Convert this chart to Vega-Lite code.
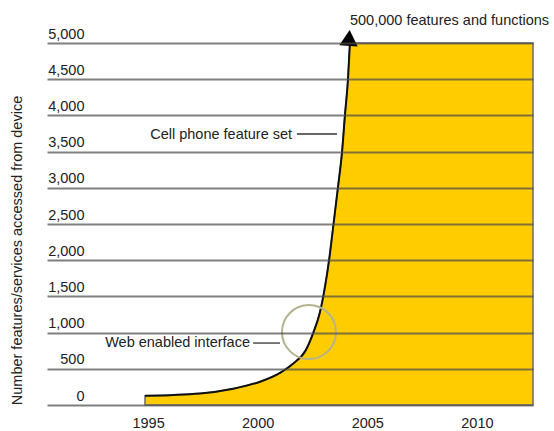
{
  "$schema": "https://vega.github.io/schema/vega-lite/v6.json",
  "width": 486,
  "height": 362,
  "autosize": "none",
  "padding": {"left": 47, "top": 43, "right": 21, "bottom": 26},
  "background": "white",
  "config": {"view": {"stroke": null}, "font": "Liberation Sans"},
  "datasets": {
    "curve": [
      {"year": 1994.86, "value": 128},
      {"year": 1997.37, "value": 160},
      {"year": 1998.88, "value": 225},
      {"year": 2000.11, "value": 322},
      {"year": 2001.02, "value": 445},
      {"year": 2001.61, "value": 570},
      {"year": 2002.20, "value": 760},
      {"year": 2002.54, "value": 1000},
      {"year": 2002.84, "value": 1280},
      {"year": 2003.04, "value": 1580},
      {"year": 2003.27, "value": 2030},
      {"year": 2003.46, "value": 2500},
      {"year": 2003.66, "value": 3000},
      {"year": 2003.85, "value": 3500},
      {"year": 2003.98, "value": 4000},
      {"year": 2004.12, "value": 4500},
      {"year": 2004.21, "value": 5000},
      {"year": 2012.56, "value": 5000}
    ],
    "rightLabels": [
      {"year": 2001.57, "value": 3729, "label": "Cell phone feature set"},
      {"year": 1999.65, "value": 856, "label": "Web enabled interface"}
    ],
    "topLabel": [
      {"year": 2004.21, "value": 5305, "label": "500,000 features and functions"}
    ],
    "leaders": [
      {"year": 2001.79, "year2": 2003.62, "value": 3743},
      {"year": 1999.79, "year2": 2001.02, "value": 856}
    ],
    "arrow": [{"year": 2004.17, "value": 5070}],
    "ring": [{"year": 2002.34, "value": 1008}]
  },
  "encoding": {
    "x": {
      "field": "year", "type": "quantitative",
      "scale": {"domain": [1990.39, 2012.56], "nice": false, "zero": false},
      "axis": {
        "orient": "bottom", "values": [1995, 2000, 2005, 2010], "format": "d",
        "grid": false, "domain": false, "ticks": false, "tickSize": 0,
        "labelPadding": 11, "labelBaseline": "top", "labelFontSize": 14.5,
        "labelColor": "#222", "labelFont": "Liberation Sans", "title": null
      }
    },
    "y": {
      "field": "value", "type": "quantitative",
      "scale": {"domain": [0, 5000], "nice": false},
      "axis": {
        "orient": "left",
        "values": [0, 500, 1000, 1500, 2000, 2500, 3000, 3500, 4000, 4500, 5000],
        "format": ",d", "grid": true, "gridColor": "#4d4d4d", "gridOpacity": 0.72, "gridWidth": 2,
        "domain": false, "ticks": false, "tickSize": 0, "labelOverlap": false,
        "labelAlign": "right", "labelPadding": -37, "labelBaseline": "alphabetic", "labelOffset": -5,
        "labelFontSize": 14.5, "labelColor": "#222", "labelFont": "Liberation Sans",
        "title": "Number features/services accessed from device",
        "titleFontSize": 14.5, "titleFontWeight": "normal", "titleColor": "#222", "titleFont": "Liberation Sans",
        "titleX": -30, "titleY": 207, "titleAngle": -90, "titleAlign": "center", "titleBaseline": "middle",
        "zindex": 1
      }
    }
  },
  "layer": [
    {
      "data": {"name": "curve"},
      "mark": {"type": "area", "interpolate": "monotone", "fill": "#FFCC00", "stroke": "#6b6b6b", "strokeWidth": 1.5}
    },
    {
      "data": {"name": "curve"},
      "transform": [{"filter": "datum.year <= 2004.3"}],
      "mark": {"type": "line", "interpolate": "monotone", "color": "#111", "strokeWidth": 2}
    },
    {
      "data": {"name": "ring"},
      "mark": {"type": "point", "shape": "circle", "filled": false, "size": 2916, "stroke": "#b3b38f", "strokeWidth": 2, "opacity": 1}
    },
    {
      "data": {"name": "arrow"},
      "mark": {"type": "point", "shape": "triangle-up", "filled": true, "size": 340, "color": "#000", "opacity": 1, "angle": 4}
    },
    {
      "data": {"name": "leaders"},
      "mark": {"type": "rule", "color": "#333", "strokeWidth": 1.3},
      "encoding": {
        "x2": {"field": "year2"}
      }
    },
    {
      "data": {"name": "rightLabels"},
      "mark": {"type": "text", "align": "right", "baseline": "middle", "fontSize": 14.5, "color": "#222", "font": "Liberation Sans"},
      "encoding": {
        "text": {"field": "label"}
      }
    },
    {
      "data": {"name": "topLabel"},
      "mark": {"type": "text", "align": "left", "baseline": "middle", "fontSize": 14.5, "color": "#222", "font": "Liberation Sans"},
      "encoding": {
        "text": {"field": "label"}
      }
    }
  ]
}
